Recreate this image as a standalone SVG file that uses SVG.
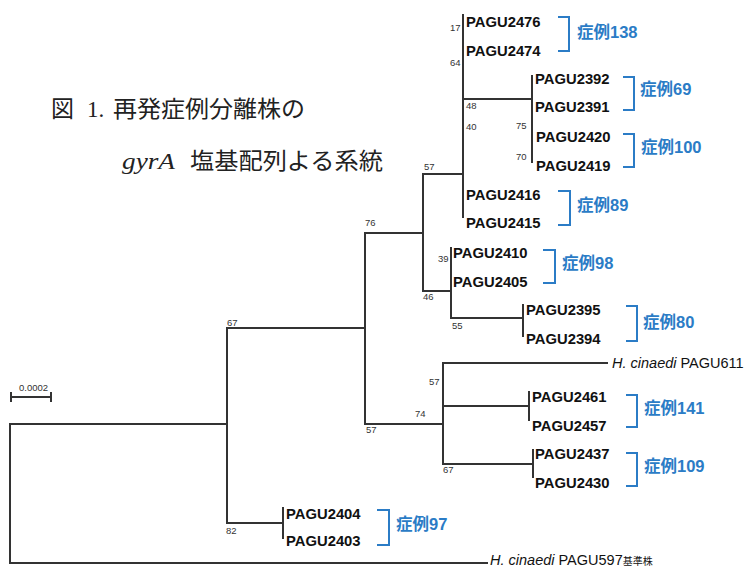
<svg xmlns="http://www.w3.org/2000/svg" width="750" height="569" viewBox="0 0 750 569">
<style>
.br{fill:none;stroke:#333;stroke-width:2;stroke-linecap:square}
.lf{font-family:"Liberation Sans",Arial,sans-serif;font-weight:bold;font-size:14.8px;fill:#111}
.bs{font-family:"Liberation Sans",Arial,sans-serif;font-size:9.5px;fill:#333}
.ca{font-family:"Liberation Sans","Noto Sans CJK JP",sans-serif;font-weight:bold;font-size:16.5px;fill:#2b7cc6}
.bk{fill:none;stroke:#2b7cc6;stroke-width:2}
.nm{font-family:"Liberation Sans",Arial,sans-serif;font-size:14.5px;fill:#111}
.tt{font-family:"Liberation Serif","Noto Sans CJK JP",serif;font-size:23px;fill:#222}
</style>
<rect width="750" height="569" fill="#fff"/>
<g id="title">
<text class="tt" x="51" y="117">図</text>
<text class="tt" x="87" y="117" font-size="24px">1.</text>
<text class="tt" x="113" y="117" textLength="192" lengthAdjust="spacingAndGlyphs">再発症例分離株の</text>
<text class="tt" x="122" y="169" font-style="italic" font-size="25px" textLength="53" lengthAdjust="spacingAndGlyphs">gyrA</text>
<text class="tt" x="190" y="169" textLength="193" lengthAdjust="spacingAndGlyphs">塩基配列よる系統</text>
</g>
<g id="connectors" class="br">
<path d="M10,424V563H487"/>
<path d="M10,424H227"/>
<path d="M227,328V523"/>
<path d="M227,328H365"/>
<path d="M227,523H283"/>
<path d="M283,508V538"/>
<path d="M365,233V424"/>
<path d="M365,233H423"/>
<path d="M365,424H443"/>
<path d="M423,174V291"/>
<path d="M423,174H463"/>
<path d="M423,291H451"/>
<path d="M463,15V217"/>
<path d="M463,99H532"/>
<path d="M532,76V162"/>
<path d="M451,248V318"/>
<path d="M451,318H523"/>
<path d="M523,305V336"/>
<path d="M443,363V464"/>
<path d="M443,363H607"/>
<path d="M443,406H529"/>
<path d="M443,464H533"/>
<path d="M529,392V420"/>
<path d="M533,450V477"/>
</g>
<g id="bootstrap" class="bs">
<text x="450" y="31">17</text>
<text x="450" y="66">64</text>
<text x="466" y="109">48</text>
<text x="466" y="130">40</text>
<text x="516" y="129">75</text>
<text x="516" y="160">70</text>
<text x="424" y="170">57</text>
<text x="365" y="226">76</text>
<text x="438" y="262">39</text>
<text x="423" y="300">46</text>
<text x="452" y="329">55</text>
<text x="227" y="326">67</text>
<text x="366" y="433">57</text>
<text x="429" y="385">57</text>
<text x="415" y="417">74</text>
<text x="443" y="473">67</text>
<text x="226" y="534">82</text>
</g>
<g id="scale">
<path class="br" d="M11,397H51M11,393V401M51,393V401" stroke-width="1.6"/>
<text class="bs" x="19" y="391" font-size="10px">0.0002</text>
</g>
<g id="PAGU2476"><text class="lf" x="466" y="27">PAGU2476</text></g>
<g id="PAGU2474"><text class="lf" x="466" y="56">PAGU2474</text></g>
<g id="PAGU2392"><text class="lf" x="535" y="84">PAGU2392</text></g>
<g id="PAGU2391"><text class="lf" x="535" y="112">PAGU2391</text></g>
<g id="PAGU2420"><text class="lf" x="536" y="142">PAGU2420</text></g>
<g id="PAGU2419"><text class="lf" x="536" y="171">PAGU2419</text></g>
<g id="PAGU2416"><text class="lf" x="466" y="200">PAGU2416</text></g>
<g id="PAGU2415"><text class="lf" x="466" y="228">PAGU2415</text></g>
<g id="PAGU2410"><text class="lf" x="453" y="258">PAGU2410</text></g>
<g id="PAGU2405"><text class="lf" x="453" y="287">PAGU2405</text></g>
<g id="PAGU2395"><text class="lf" x="526" y="315">PAGU2395</text></g>
<g id="PAGU2394"><text class="lf" x="526" y="344">PAGU2394</text></g>
<g id="PAGU611"><text class="nm" x="612" y="368"><tspan font-style="italic">H. cinaedi</tspan> PAGU611</text></g>
<g id="PAGU2461"><text class="lf" x="532" y="402">PAGU2461</text></g>
<g id="PAGU2457"><text class="lf" x="532" y="431">PAGU2457</text></g>
<g id="PAGU2437"><text class="lf" x="535" y="459">PAGU2437</text></g>
<g id="PAGU2430"><text class="lf" x="535" y="488">PAGU2430</text></g>
<g id="PAGU2404"><text class="lf" x="286" y="519">PAGU2404</text></g>
<g id="PAGU2403"><text class="lf" x="286" y="546">PAGU2403</text></g>
<g id="PAGU597"><text class="nm" x="490" y="565"><tspan font-style="italic">H. cinaedi</tspan> PAGU597<tspan font-family="'Noto Sans CJK JP',sans-serif" font-size="10px">基準株</tspan></text></g>
<g id="case138"><path class="bk" d="M558,17H569V51H558"/><text class="ca" x="577" y="38">症例138</text></g>
<g id="case69"><path class="bk" d="M623,77H634V110H623"/><text class="ca" x="640" y="95">症例69</text></g>
<g id="case100"><path class="bk" d="M623,134H634V167H623"/><text class="ca" x="641" y="153">症例100</text></g>
<g id="case89"><path class="bk" d="M558,191H570V225H558"/><text class="ca" x="577" y="211">症例89</text></g>
<g id="case98"><path class="bk" d="M543,250H555V283H543"/><text class="ca" x="562" y="269">症例98</text></g>
<g id="case80"><path class="bk" d="M626,306H637V341H626"/><text class="ca" x="643" y="328">症例80</text></g>
<g id="case141"><path class="bk" d="M626,395H637V427H626"/><text class="ca" x="644" y="414">症例141</text></g>
<g id="case109"><path class="bk" d="M626,453H637V486H626"/><text class="ca" x="644" y="472">症例109</text></g>
<g id="case97"><path class="bk" d="M377,510H389V545H377"/><text class="ca" x="396" y="530">症例97</text></g>
</svg>
